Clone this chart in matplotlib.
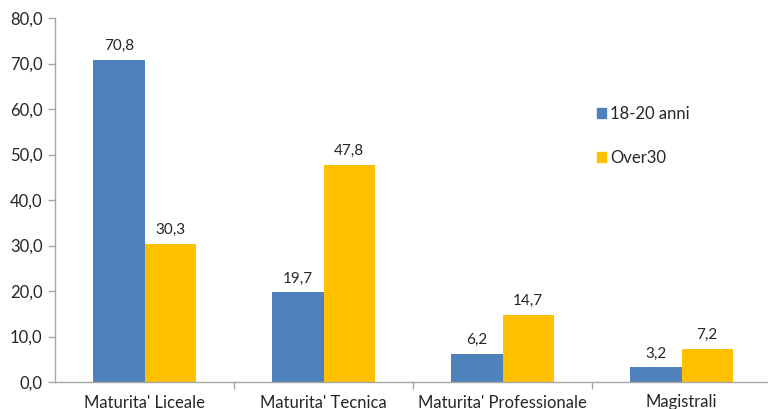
import numpy as np
import matplotlib.pyplot as plt
from matplotlib.patches import Patch

# dati: diploma di maturita' per classe di eta'
categorie = ["Maturita' Liceale", "Maturita' Tecnica", "Maturita' Professionale", "Magistrali"]
giovani = [70.8, 19.7, 6.2, 3.2]
over30 = [30.3, 47.8, 14.7, 7.2]
serie = ["18-20 anni", "Over30"]

blu = '#4F81BD'
giallo = '#FFC000'
grigio = '#A6A6A6'
testo = '#262626'

plt.rcParams['font.family'] = ['Lato', 'DejaVu Sans']

fig = plt.figure(figsize=(7.68, 4.09), dpi=100)
ax = fig.add_axes([55/768, 27/409, 713/768, 364/409])

x = np.arange(len(categorie))
w = 0.285
b1 = ax.bar(x - w/2, giovani, w, color=blu)
b2 = ax.bar(x + w/2, over30, w, color=giallo)

def fmt(v):
    return f'{v:.1f}'.replace('.', ',')

for barre, valori in ((b1, giovani), (b2, over30)):
    for r, v in zip(barre, valori):
        ax.annotate(fmt(v), (r.get_x() + r.get_width()/2, v), xytext=(0, 5),
                    textcoords='offset points', ha='center', va='bottom',
                    fontsize=11, color=testo)

ax.set_ylim(0, 80)
ax.set_xlim(-0.5, -0.5 + 713/179)
ax.set_yticks(np.arange(0, 81, 10))
ax.set_yticklabels([fmt(t) for t in np.arange(0, 81, 10)], fontsize=12, color=testo)

ax.set_xticks(x)
ax.set_xticklabels(categorie, fontsize=12, color=testo)
ax.tick_params(axis='x', length=0, pad=9)
ax.set_xticks(np.arange(0.5, 3.5, 1), minor=True)
ax.tick_params(axis='x', which='minor', length=5, color=grigio, width=1)
ax.tick_params(axis='y', length=5, color=grigio, width=1, pad=4)

for s in ('top', 'right'):
    ax.spines[s].set_visible(False)
for s in ('left', 'bottom'):
    ax.spines[s].set_color(grigio)
    ax.spines[s].set_linewidth(1)

handles = [Patch(color=blu), Patch(color=giallo)]
ax.legend(handles, serie, loc='upper left', bbox_to_anchor=(527/713, 0.80),
          frameon=False, fontsize=12, handlelength=0.55, handleheight=0.55,
          handletextpad=0.25, labelspacing=1.7, labelcolor=testo)

fig.savefig('out.png', dpi=100)
